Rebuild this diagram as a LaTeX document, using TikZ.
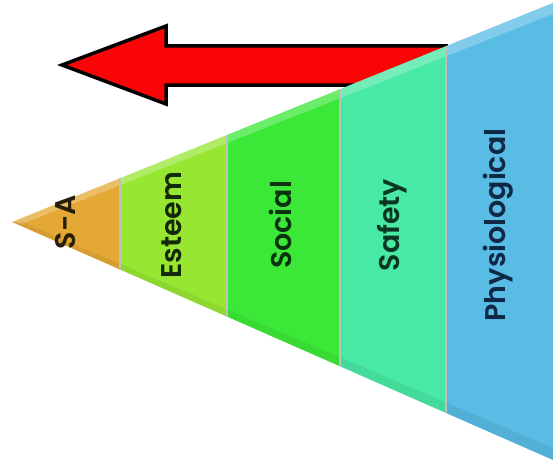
\documentclass[tikz,border=0pt]{standalone}
\usepackage{fontspec}
\setmainfont{Poppins}[BoldFont={Poppins SemiBold}]
\begin{document}
\begin{tikzpicture}[x=1pt,y=-1pt,
  seglabel/.style={rotate=90,font=\fontsize{28.5}{32}\selectfont\bfseries,inner sep=0pt,anchor=center},
  segline/.style={draw=black!25,line width=1.2pt}]
\useasboundingbox (0,0) rectangle (553,460);
\definecolor{cSA}{RGB}{228,168,52}
\definecolor{cEs}{RGB}{150,230,50}
\definecolor{cSo}{RGB}{60,232,55}
\definecolor{cSf}{RGB}{72,232,165}
\definecolor{cPh}{RGB}{88,188,228}
\definecolor{arrred}{RGB}{250,5,5}
% arrow
\draw[fill=arrred,draw=black,line width=3.5pt,line join=miter]
  (62,65) -- (166,26) -- (166,46) -- (446,46) -- (446,85) -- (166,85) -- (166,104) -- cycle;
% segments: apex (12,222); top y = 222-0.405(x-12); bottom y = 222+0.44(x-12)
\fill[cSA] (12,222) -- (120,178.3) -- (120,269.5) -- cycle;
\fill[cEs] (120,178.3) -- (227,135.0) -- (227,316.6) -- (120,269.5) -- cycle;
\fill[cSo] (227,135.0) -- (340,89.2) -- (340,366.3) -- (227,316.6) -- cycle;
\fill[cSf] (340,89.2) -- (446,46.2) -- (446,413.0) -- (340,366.3) -- cycle;
\fill[cPh] (446,46.2) -- (553,2.9) -- (553,460) -- (446,413.0) -- cycle;
% light top bevels
\fill[white,opacity=0.25] (12,222) -- (553,2.9) -- (553,14) -- (22,224) -- cycle;
\fill[black,opacity=0.06] (12,222) -- (553,460) -- (553,448) -- (22,222) -- cycle;
% boundaries
\draw[segline] (120,178.3) -- (120,269.5);
\draw[segline] (227,135.0) -- (227,316.6);
\draw[segline] (340,89.2) -- (340,366.3);
\draw[segline] (446,46.2) -- (446,413.0);
% labels
\node[seglabel,text={rgb,255:red,40;green,30;blue,10}] (sa) at (66,222) {S-A};
\node[seglabel,text={rgb,255:red,20;green,40;blue,10}] (es) at (172,225) {Esteem};
\node[seglabel,text={rgb,255:red,10;green,50;blue,15}] (so) at (280,225) {Social};
\node[seglabel,text={rgb,255:red,10;green,55;blue,35}] (sf) at (392,225) {Safety};
\node[seglabel,text={rgb,255:red,15;green,40;blue,70}] (ph) at (498,225) {Physiological};
\end{tikzpicture}
\end{document}
